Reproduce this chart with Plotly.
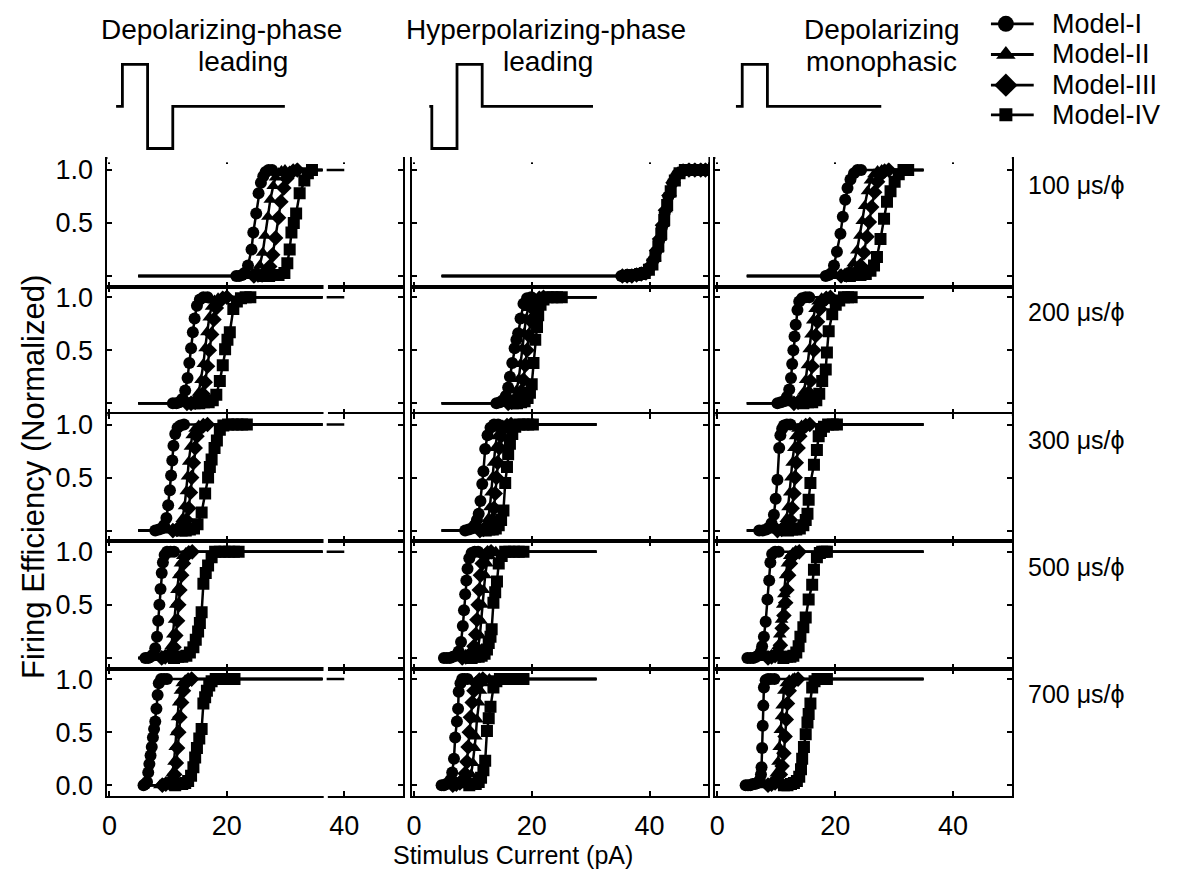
import plotly.graph_objects as go

# ---------------------------------------------------------------------------
# Data: firing efficiency (normalized) vs stimulus current (pA)
# rows: phase durations, columns: stimulus waveform, traces: models
# ---------------------------------------------------------------------------
MODELS = ["Model-I", "Model-II", "Model-III", "Model-IV"]
SYMBOLS = ["circle", "triangle-up", "diamond", "square"]
DURATIONS = ["100 μs/ϕ", "200 μs/ϕ", "300 μs/ϕ", "500 μs/ϕ", "700 μs/ϕ"]
COLUMN_TITLES = [("Depolarizing-phase", "leading"),
                 ("Hyperpolarizing-phase", "leading"),
                 ("Depolarizing", "monophasic")]
X_TICKS = [0, 20, 40]
X_TICK_TEXT = ["0", "20", "40"]
Y_TICKS = [0.0, 0.5, 1.0]

# where the zero baseline starts (pA), per column
FLAT_START = [4.9, 4.7, 5.0]
# where the saturated (1.0) line ends (pA), per column and row
FLAT_END = [[36.3, 36.3, 36.3, 36.3, 36.3],
            [49.8, 31.0, 31.0, 31.0, 31.0],
            [35.0, 35.0, 35.0, 35.0, 35.0]]
# saturated segment continued after the axis break (first column)
BREAK_X = [37.0, 40.0]
BREAK_GAP = [36.5, 37.2]

# ---- Depolarizing-phase leading --------------------------------------------
dpl_I_x = [
    [21.6, 22.1, 22.6, 23.0, 23.6, 24.2, 24.5, 25.0, 25.4, 25.8, 26.2, 26.6, 27.1, 27.7],
    [10.8, 11.4, 11.9, 12.4, 12.9, 13.3, 13.6, 13.9, 14.2, 14.5, 14.9, 15.4, 16.0, 16.7],
    [7.8, 8.4, 8.9, 9.3, 9.7, 10.0, 10.3, 10.5, 10.7, 10.9, 11.2, 11.6, 12.1, 12.7],
    [6.1, 6.6, 7.0, 7.4, 7.8, 8.1, 8.3, 8.5, 8.7, 8.9, 9.1, 9.4, 9.8, 10.4, 11.0],
    [5.8, 6.1, 6.4, 6.6, 6.8, 7.0, 7.2, 7.4, 7.6, 7.8, 8.0, 8.2, 8.4, 8.8, 9.3, 9.8],
]
dpl_I_y = [
    [0, 0, 0.01, 0.03, 0.1, 0.25, 0.41, 0.59, 0.78, 0.88, 0.94, 0.98, 1.0, 1.0],
    [0, 0, 0.01, 0.04, 0.12, 0.24, 0.38, 0.52, 0.67, 0.8, 0.92, 0.98, 1.0, 1.0],
    [0, 0.01, 0.02, 0.05, 0.12, 0.24, 0.38, 0.52, 0.66, 0.8, 0.91, 0.97, 0.99, 1.0],
    [0, 0, 0.01, 0.03, 0.09, 0.2, 0.35, 0.5, 0.65, 0.8, 0.9, 0.97, 1.0, 1.0, 1.0],
    [0, 0.01, 0.03, 0.12, 0.2, 0.28, 0.36, 0.45, 0.53, 0.6, 0.72, 0.85, 0.96, 1.0, 1.0, 1.0],
]
dpl_II_x = [
    [23.2, 23.8, 24.4, 25.0, 25.6, 26.1, 26.5, 27.0, 27.4, 27.9, 28.3, 28.8, 29.3, 29.9],
    [12.6, 13.3, 14.0, 14.6, 15.2, 15.6, 16.0, 16.3, 16.6, 17.0, 17.4, 17.9, 18.5, 19.2],
    [10.2, 10.8, 11.4, 11.9, 12.4, 12.8, 13.1, 13.3, 13.5, 13.8, 14.1, 14.6, 15.2, 15.9],
    [8.4, 9.0, 9.6, 10.1, 10.5, 10.8, 11.1, 11.3, 11.5, 11.8, 12.1, 12.5, 13.0, 13.6],
    [8.6, 9.2, 9.8, 10.3, 10.7, 11.0, 11.2, 11.4, 11.6, 11.8, 12.1, 12.4, 12.9, 13.5],
]
dpl_II_y = [
    [0, 0.01, 0.02, 0.04, 0.1, 0.22, 0.38, 0.56, 0.72, 0.85, 0.93, 0.97, 0.99, 1.0],
    [0, 0, 0.01, 0.04, 0.1, 0.22, 0.37, 0.52, 0.67, 0.81, 0.91, 0.97, 0.99, 1.0],
    [0, 0.01, 0.02, 0.05, 0.11, 0.23, 0.37, 0.51, 0.65, 0.79, 0.9, 0.96, 0.99, 1.0],
    [0, 0.01, 0.02, 0.05, 0.11, 0.22, 0.36, 0.5, 0.64, 0.78, 0.89, 0.96, 0.99, 1.0],
    [0, 0.01, 0.02, 0.05, 0.11, 0.22, 0.36, 0.5, 0.64, 0.78, 0.89, 0.96, 0.99, 1.0],
]
dpl_III_x = [
    [24.6, 25.3, 26.0, 26.7, 27.3, 27.8, 28.3, 28.8, 29.2, 29.7, 30.2, 30.7, 31.3, 32.0],
    [13.2, 13.9, 14.6, 15.3, 15.9, 16.3, 16.7, 17.0, 17.4, 17.8, 18.2, 18.7, 19.3, 20.0],
    [10.8, 11.5, 12.1, 12.7, 13.1, 13.5, 13.8, 14.0, 14.3, 14.6, 14.9, 15.4, 16.0, 16.7],
    [8.9, 9.5, 10.1, 10.6, 11.0, 11.3, 11.6, 11.8, 12.0, 12.3, 12.6, 13.0, 13.5, 14.1],
    [9.0, 9.6, 10.2, 10.7, 11.1, 11.4, 11.6, 11.8, 12.0, 12.3, 12.6, 12.9, 13.4, 14.0],
]
dpl_III_y = [
    [0, 0.01, 0.01, 0.04, 0.09, 0.2, 0.36, 0.55, 0.7, 0.83, 0.92, 0.97, 0.99, 1.0],
    [0, 0, 0.01, 0.03, 0.09, 0.2, 0.35, 0.5, 0.65, 0.79, 0.9, 0.96, 0.99, 1.0],
    [0, 0.01, 0.02, 0.04, 0.1, 0.21, 0.36, 0.5, 0.64, 0.78, 0.89, 0.96, 0.99, 1.0],
    [0, 0.01, 0.02, 0.04, 0.1, 0.21, 0.35, 0.5, 0.64, 0.78, 0.89, 0.96, 0.99, 1.0],
    [0, 0.01, 0.02, 0.04, 0.1, 0.21, 0.35, 0.5, 0.64, 0.78, 0.89, 0.96, 0.99, 1.0],
]
dpl_IV_x = [
    [26.4, 27.2, 28.0, 28.8, 29.8, 30.3, 30.7, 31.0, 31.4, 31.8, 32.4, 33.2, 33.8, 34.5],
    [14.5, 15.3, 16.1, 16.9, 17.6, 18.2, 18.8, 19.3, 19.7, 20.1, 20.5, 21.1, 21.7, 22.4, 23.2, 24.0],
    [12.3, 13.0, 13.7, 14.4, 15.0, 15.7, 16.3, 16.8, 17.1, 17.4, 17.9, 18.3, 18.8, 19.4, 20.2, 21.0, 21.8, 22.6, 23.4],
    [11.0, 11.7, 12.4, 13.1, 13.7, 14.3, 14.7, 15.1, 15.4, 15.7, 16.0, 16.4, 16.8, 17.4, 18.0, 18.8, 19.6, 20.4, 21.2, 22.0],
    [11.2, 11.8, 12.4, 12.9, 13.4, 13.9, 14.3, 14.6, 14.9, 15.3, 15.7, 16.0, 16.3, 16.6, 17.0, 17.4, 18.1, 18.9, 19.7, 20.5, 21.3],
]
dpl_IV_y = [
    [0, 0, 0.01, 0.01, 0.03, 0.12, 0.25, 0.41, 0.5, 0.59, 0.78, 0.9, 0.97, 1.0],
    [0, 0, 0.01, 0.01, 0.03, 0.08, 0.21, 0.36, 0.51, 0.6, 0.67, 0.89, 0.96, 0.99, 1.0, 1.0],
    [0, 0, 0.01, 0.02, 0.06, 0.17, 0.35, 0.5, 0.6, 0.67, 0.78, 0.85, 0.95, 0.99, 1.0, 1.0, 1.0, 1.0, 1.0],
    [0, 0.01, 0.01, 0.02, 0.05, 0.1, 0.17, 0.25, 0.33, 0.43, 0.7, 0.8, 0.87, 0.95, 1.0, 1.0, 1.0, 1.0, 1.0, 1.0],
    [0, 0.01, 0.01, 0.02, 0.04, 0.09, 0.17, 0.26, 0.35, 0.44, 0.53, 0.77, 0.83, 0.89, 0.94, 0.98, 1.0, 1.0, 1.0, 1.0, 1.0],
]

# ---- Hyperpolarizing-phase leading -----------------------------------------
hpl_I_x = [
    [35.2, 36.0, 36.8, 37.6, 38.4, 39.2, 40.0, 40.6, 41.1, 41.6, 42.1, 42.6, 43.2, 43.9, 44.7, 45.6, 46.6, 47.6, 48.6, 49.6],
    [14.0, 14.6, 15.1, 15.6, 16.0, 16.3, 16.7, 17.1, 17.4, 17.7, 18.1, 18.6, 19.2, 19.9],
    [8.7, 9.3, 9.8, 10.3, 10.7, 11.0, 11.3, 11.6, 11.8, 12.1, 12.5, 13.0, 13.6, 14.3],
    [5.1, 5.6, 6.1, 6.6, 7.1, 7.6, 8.0, 8.3, 8.5, 8.7, 8.9, 9.1, 9.4, 9.8, 10.3, 10.9],
    [4.7, 5.1, 5.5, 5.9, 6.2, 6.5, 6.8, 7.0, 7.3, 7.5, 7.6, 7.9, 8.2, 8.6, 9.1],
]
hpl_I_y = [
    [0, 0, 0, 0.01, 0.01, 0.03, 0.08, 0.15, 0.23, 0.33, 0.46, 0.6, 0.75, 0.88, 0.96, 0.99, 1.0, 1.0, 1.0, 1.0],
    [0, 0.01, 0.03, 0.07, 0.15, 0.25, 0.38, 0.52, 0.6, 0.66, 0.8, 0.94, 0.99, 1.0],
    [0, 0.01, 0.02, 0.05, 0.1, 0.16, 0.28, 0.44, 0.56, 0.77, 0.9, 0.97, 1.0, 1.0],
    [0, 0, 0, 0.01, 0.02, 0.06, 0.15, 0.3, 0.45, 0.6, 0.73, 0.84, 0.94, 0.99, 1.0, 1.0],
    [0, 0, 0.01, 0.02, 0.05, 0.12, 0.25, 0.45, 0.6, 0.72, 0.88, 0.96, 1.0, 1.0, 1.0],
]
hpl_II_x = [
    [35.6, 36.4, 37.2, 38.0, 38.8, 39.5, 40.2, 40.8, 41.3, 41.8, 42.3, 42.8, 43.4, 44.1, 44.9, 45.8, 46.8, 47.8, 48.8],
    [15.4, 16.0, 16.5, 17.0, 17.4, 17.8, 18.1, 18.4, 18.7, 19.0, 19.4, 19.9, 20.5, 21.2],
    [10.6, 11.2, 11.7, 12.2, 12.6, 12.9, 13.1, 13.3, 13.5, 13.8, 14.1, 14.5, 15.1, 15.8],
    [8.8, 9.4, 10.0, 10.5, 10.9, 11.2, 11.4, 11.6, 11.8, 12.1, 12.4, 12.8, 13.3, 13.9],
    [7.6, 8.2, 8.8, 9.3, 9.7, 10.0, 10.3, 10.5, 10.7, 11.0, 11.3, 11.7, 12.2, 12.8],
]
hpl_II_y = [
    [0, 0, 0.01, 0.01, 0.02, 0.04, 0.09, 0.16, 0.25, 0.36, 0.49, 0.63, 0.77, 0.89, 0.96, 0.99, 1.0, 1.0, 1.0],
    [0, 0.01, 0.02, 0.05, 0.12, 0.23, 0.37, 0.52, 0.66, 0.79, 0.9, 0.97, 0.99, 1.0],
    [0, 0.01, 0.02, 0.05, 0.11, 0.22, 0.36, 0.5, 0.64, 0.78, 0.89, 0.96, 0.99, 1.0],
    [0, 0.01, 0.02, 0.04, 0.1, 0.21, 0.35, 0.5, 0.64, 0.78, 0.89, 0.96, 0.99, 1.0],
    [0, 0.01, 0.02, 0.04, 0.1, 0.21, 0.35, 0.46, 0.62, 0.78, 0.89, 0.96, 0.99, 1.0],
]
hpl_III_x = [
    [35.4, 36.2, 37.0, 37.8, 38.6, 39.4, 40.1, 40.7, 41.2, 41.7, 42.2, 42.7, 43.3, 44.0, 44.8, 45.7, 46.7, 47.7, 48.7, 49.5],
    [16.0, 16.6, 17.2, 17.8, 18.2, 18.6, 18.9, 19.2, 19.5, 19.8, 20.2, 20.7, 21.3, 22.0],
    [11.2, 11.8, 12.4, 12.9, 13.3, 13.6, 13.8, 14.0, 14.2, 14.5, 14.8, 15.2, 15.8, 16.5],
    [8.2, 8.8, 9.3, 9.8, 10.2, 10.5, 10.7, 10.9, 11.1, 11.3, 11.6, 12.0, 12.5, 13.1],
    [6.6, 7.2, 7.8, 8.3, 8.7, 9.0, 9.2, 9.4, 9.6, 9.9, 10.2, 10.6, 11.1, 11.7],
]
hpl_III_y = [
    [0, 0, 0, 0.01, 0.02, 0.03, 0.08, 0.15, 0.24, 0.35, 0.48, 0.62, 0.76, 0.88, 0.96, 0.99, 1.0, 1.0, 1.0, 1.0],
    [0, 0.01, 0.02, 0.05, 0.11, 0.22, 0.36, 0.5, 0.64, 0.78, 0.89, 0.96, 0.99, 1.0],
    [0, 0.01, 0.02, 0.04, 0.1, 0.21, 0.35, 0.5, 0.64, 0.78, 0.89, 0.96, 0.99, 1.0],
    [0, 0.01, 0.02, 0.05, 0.11, 0.22, 0.36, 0.5, 0.64, 0.78, 0.89, 0.96, 0.99, 1.0],
    [0, 0.01, 0.02, 0.05, 0.11, 0.22, 0.36, 0.5, 0.64, 0.78, 0.89, 0.96, 0.99, 1.0],
]
hpl_IV_x = [
    [36.0, 36.8, 37.6, 38.4, 39.2, 39.9, 40.5, 41.0, 41.5, 42.0, 42.5, 43.0, 43.6, 44.3, 45.1, 46.0, 47.0, 48.0, 49.0, 49.8],
    [16.8, 17.5, 18.2, 18.8, 19.3, 19.7, 20.0, 20.3, 20.6, 20.9, 21.1, 21.5, 22.0, 22.7, 23.5, 24.3, 25.1],
    [12.2, 12.8, 13.4, 13.9, 14.4, 14.8, 15.2, 15.5, 15.8, 16.0, 16.3, 16.7, 17.2, 17.9, 18.6, 19.4, 20.2],
    [9.8, 10.4, 11.0, 11.5, 12.0, 12.4, 12.7, 13.0, 13.2, 13.5, 13.8, 14.1, 14.4, 14.9, 15.5, 16.2, 17.0, 17.8, 18.6],
    [9.4, 10.0, 10.5, 11.0, 11.4, 11.8, 12.1, 12.4, 12.7, 13.0, 13.5, 14.0, 14.6, 15.4, 16.2, 17.0, 17.8, 18.6],
]
hpl_IV_y = [
    [0, 0.01, 0.01, 0.02, 0.03, 0.06, 0.11, 0.19, 0.28, 0.4, 0.53, 0.67, 0.8, 0.9, 0.97, 1.0, 1.0, 1.0, 1.0, 1.0],
    [0, 0, 0.01, 0.02, 0.05, 0.1, 0.18, 0.38, 0.6, 0.72, 0.83, 0.93, 0.98, 1.0, 1.0, 1.0, 1.0],
    [0, 0.01, 0.01, 0.02, 0.05, 0.1, 0.19, 0.45, 0.6, 0.72, 0.82, 0.91, 0.98, 1.0, 1.0, 1.0, 1.0],
    [0, 0.01, 0.01, 0.02, 0.04, 0.08, 0.14, 0.2, 0.27, 0.52, 0.62, 0.72, 0.89, 0.96, 1.0, 1.0, 1.0, 1.0, 1.0],
    [0, 0.01, 0.01, 0.03, 0.07, 0.14, 0.23, 0.51, 0.63, 0.74, 0.92, 0.98, 1.0, 1.0, 1.0, 1.0, 1.0, 1.0],
]

# ---- Depolarizing monophasic -----------------------------------------------
dmp_I_x = [
    [18.4, 18.9, 19.4, 19.8, 20.3, 20.9, 21.3, 21.7, 22.1, 22.6, 23.2, 23.8, 24.4],
    [10.2, 10.8, 11.3, 11.8, 12.2, 12.5, 12.7, 12.9, 13.1, 13.3, 13.6, 13.9, 14.4, 15.0, 15.6],
    [7.1, 7.7, 8.3, 8.8, 9.2, 9.6, 9.9, 10.2, 10.5, 10.7, 11.0, 11.3, 11.8, 12.4],
    [5.1, 5.6, 6.1, 6.6, 7.1, 7.4, 7.6, 7.9, 8.2, 8.5, 8.8, 9.0, 9.3, 9.8, 10.4],
    [4.8, 5.2, 5.6, 6.0, 6.4, 6.8, 7.2, 7.4, 7.5, 7.6, 7.7, 7.8, 7.9, 8.2, 8.6, 9.1, 9.7],
]
dmp_I_y = [
    [0, 0.01, 0.03, 0.1, 0.23, 0.4, 0.56, 0.72, 0.83, 0.91, 0.97, 1.0, 1.0],
    [0, 0.01, 0.02, 0.06, 0.13, 0.24, 0.37, 0.5, 0.63, 0.74, 0.88, 0.96, 0.99, 1.0, 1.0],
    [0, 0, 0.01, 0.03, 0.07, 0.15, 0.3, 0.48, 0.78, 0.9, 0.96, 0.99, 1.0, 1.0],
    [0, 0, 0, 0.01, 0.03, 0.06, 0.11, 0.2, 0.34, 0.55, 0.73, 0.9, 0.98, 1.0, 1.0],
    [0, 0, 0, 0.01, 0.01, 0.02, 0.05, 0.1, 0.17, 0.35, 0.56, 0.75, 0.92, 0.99, 1.0, 1.0, 1.0],
]
dmp_II_x = [
    [20.0, 20.8, 21.6, 22.4, 23.1, 23.7, 24.2, 24.6, 25.0, 25.5, 26.0, 26.6, 27.2, 27.9],
    [12.4, 13.1, 13.7, 14.2, 14.7, 15.0, 15.3, 15.6, 15.9, 16.2, 16.6, 17.1, 17.7, 18.4],
    [9.6, 10.2, 10.8, 11.3, 11.7, 12.0, 12.3, 12.5, 12.7, 13.0, 13.3, 13.7, 14.3, 15.0],
    [8.2, 8.8, 9.4, 9.9, 10.3, 10.6, 10.9, 11.1, 11.3, 11.6, 11.9, 12.3, 12.8, 13.4],
    [8.0, 8.6, 9.1, 9.6, 10.0, 10.3, 10.5, 10.7, 10.9, 11.0, 11.3, 11.7, 12.2, 12.8],
]
dmp_II_y = [
    [0, 0.01, 0.02, 0.05, 0.12, 0.24, 0.38, 0.52, 0.66, 0.8, 0.9, 0.96, 0.99, 1.0],
    [0, 0.01, 0.02, 0.05, 0.11, 0.22, 0.36, 0.51, 0.65, 0.78, 0.89, 0.96, 0.99, 1.0],
    [0, 0.01, 0.02, 0.05, 0.11, 0.22, 0.36, 0.5, 0.64, 0.78, 0.89, 0.96, 0.99, 1.0],
    [0, 0.01, 0.02, 0.05, 0.11, 0.22, 0.36, 0.5, 0.6, 0.78, 0.89, 0.96, 0.99, 1.0],
    [0, 0.01, 0.02, 0.05, 0.11, 0.22, 0.36, 0.52, 0.65, 0.75, 0.89, 0.96, 0.99, 1.0],
]
dmp_III_x = [
    [21.0, 21.9, 22.8, 23.6, 24.3, 24.9, 25.4, 25.8, 26.2, 26.7, 27.2, 27.8, 28.4, 29.1],
    [13.0, 13.7, 14.4, 15.0, 15.5, 15.8, 16.1, 16.4, 16.7, 17.0, 17.4, 17.9, 18.5, 19.2],
    [10.2, 10.9, 11.5, 12.0, 12.4, 12.7, 13.0, 13.2, 13.4, 13.7, 14.0, 14.4, 15.0, 15.7],
    [8.6, 9.2, 9.8, 10.3, 10.7, 11.0, 11.3, 11.6, 11.8, 12.1, 12.4, 12.8, 13.3, 13.9],
    [8.6, 9.2, 9.8, 10.3, 10.7, 11.0, 11.3, 11.5, 11.7, 11.9, 12.2, 12.6, 13.1, 13.7],
]
dmp_III_y = [
    [0, 0.01, 0.02, 0.04, 0.1, 0.22, 0.37, 0.51, 0.65, 0.79, 0.89, 0.96, 0.99, 1.0],
    [0, 0.01, 0.02, 0.04, 0.1, 0.21, 0.35, 0.5, 0.64, 0.77, 0.89, 0.96, 0.99, 1.0],
    [0, 0.01, 0.02, 0.04, 0.1, 0.21, 0.35, 0.5, 0.64, 0.78, 0.89, 0.96, 0.99, 1.0],
    [0, 0.01, 0.02, 0.05, 0.12, 0.28, 0.4, 0.52, 0.64, 0.78, 0.89, 0.96, 0.99, 1.0],
    [0, 0.01, 0.02, 0.04, 0.1, 0.18, 0.3, 0.46, 0.62, 0.77, 0.89, 0.96, 0.99, 1.0],
]
dmp_IV_x = [
    [22.5, 23.4, 24.3, 25.2, 26.0, 26.6, 27.1, 27.7, 28.3, 28.8, 29.4, 30.1, 30.8, 31.6, 32.4],
    [14.6, 15.4, 16.1, 16.8, 17.3, 17.8, 18.4, 18.6, 18.9, 19.5, 20.1, 20.7, 21.5, 22.2, 22.8],
    [12.0, 12.7, 13.4, 14.0, 14.6, 15.0, 15.3, 15.5, 15.8, 16.4, 16.9, 17.2, 17.6, 18.1, 18.8, 19.6, 20.3],
    [11.2, 11.8, 12.4, 12.9, 13.4, 13.8, 14.1, 14.6, 15.0, 15.5, 16.1, 16.4, 16.9, 17.4, 17.8, 18.2, 18.6],
    [11.3, 11.9, 12.5, 13.0, 13.5, 13.9, 14.2, 14.4, 14.7, 15.0, 15.3, 15.5, 15.8, 16.1, 16.5, 17.0, 17.6, 18.2, 18.6],
]
dmp_IV_y = [
    [0, 0.01, 0.01, 0.02, 0.05, 0.1, 0.18, 0.35, 0.54, 0.7, 0.8, 0.89, 0.96, 1.0, 1.0],
    [0, 0.01, 0.01, 0.03, 0.09, 0.21, 0.32, 0.48, 0.68, 0.84, 0.93, 0.97, 1.0, 1.0, 1.0],
    [0, 0.01, 0.01, 0.02, 0.05, 0.1, 0.16, 0.29, 0.45, 0.62, 0.76, 0.89, 0.94, 0.98, 1.0, 1.0, 1.0],
    [0, 0.01, 0.01, 0.02, 0.05, 0.11, 0.2, 0.29, 0.38, 0.55, 0.69, 0.83, 0.95, 0.99, 1.0, 1.0, 1.0],
    [0, 0, 0.01, 0.02, 0.04, 0.08, 0.15, 0.25, 0.36, 0.48, 0.59, 0.67, 0.77, 0.92, 0.98, 1.0, 1.0, 1.0, 1.0],
]

# stimulus waveform sketches (time in arbitrary units, amplitude normalized)
WAVE_T = [[-25, 0, 0, 100, 100, 200, 200, 645],
          [-10, 0, 0, 100, 100, 200, 200, 640],
          [-25, 0, 0, 100, 100, 552]]
WAVE_A = [[0, 0, 1, 1, -1, -1, 0, 0],
          [0, 0, -1, -1, 1, 1, 0, 0],
          [0, 0, 1, 1, 0, 0]]

SERIES = [
    [(dpl_I_x, dpl_I_y), (dpl_II_x, dpl_II_y), (dpl_III_x, dpl_III_y), (dpl_IV_x, dpl_IV_y)],
    [(hpl_I_x, hpl_I_y), (hpl_II_x, hpl_II_y), (hpl_III_x, hpl_III_y), (hpl_IV_x, hpl_IV_y)],
    [(dmp_I_x, dmp_I_y), (dmp_II_x, dmp_II_y), (dmp_III_x, dmp_III_y), (dmp_IV_x, dmp_IV_y)],
]

# ---------------------------------------------------------------------------
# Layout geometry (pixels of the 1177 x 876 canvas)
# ---------------------------------------------------------------------------
W, H = 1177, 876
FONT = "Liberation Sans, Arial, Helvetica, sans-serif"
COL_PX = [(102, 399), (408, 706), (713, 1011)]
ROW_TOP, ROW_H = 157.0, 128.6
X_RANGE = [-0.34, 50.0]
Y_RANGE = [-0.1, 1.1]
WAVE_PX = (50, 160)
WAVE_ONSET_PX = [117, 428, 740]
WAVE_UNITS_PER_PX = 3.95
WAVE_BASE_PX, WAVE_AMP_PX = 103.5, 42.5
MARKER_SIZE = 12
LINE_W = 2.5
TICK_FONT = 27

# legend box geometry (pixels)
LEG_X_PX = (975, 1048)
LEG_Y_PX = (0, 130)
LEG_ROW_PX = [20, 51, 82, 112]
LEG_LINE_PX = (990, 1033)
LEG_MARK_PX = 1005
LEG_TEXT_PX = 1049
LEG_MARK_SIZE = [16, 17, 18, 13]


def fx(px):
    return px / W


def fy(px):
    return 1 - px / H


def ax_names(k):
    s = "" if k == 1 else str(k)
    return "xaxis" + s, "yaxis" + s, "x" + s, "y" + s


fig = go.Figure()
layout = {}
shapes = []

for r in range(5):
    for c in range(3):
        k = r * 3 + c + 1
        xa, ya, xr, yr = ax_names(k)
        top = ROW_TOP + r * ROW_H
        bot = top + ROW_H
        ticktext_y = ["0.0" if r == 4 else "", "0.5", "1.0"]
        layout[xa] = dict(
            domain=[fx(COL_PX[c][0]), fx(COL_PX[c][1])], range=X_RANGE, anchor=yr,
            tickvals=X_TICKS, ticktext=X_TICK_TEXT, ticks="inside", ticklen=5, tickwidth=1.5,
            tickcolor="black", showline=True, linewidth=2, linecolor="black",
            mirror="allticks", showgrid=False, zeroline=False,
            showticklabels=(r == 4), ticklabelstandoff=5,
            tickfont=dict(family=FONT, size=TICK_FONT, color="black"))
        layout[ya] = dict(
            domain=[fy(bot), fy(top)], range=Y_RANGE, anchor=xr,
            tickvals=Y_TICKS, ticktext=ticktext_y, ticks="inside", ticklen=5, tickwidth=1.5,
            tickcolor="black", showline=True, linewidth=2, linecolor="black",
            mirror="allticks", showgrid=False, zeroline=False,
            showticklabels=(c == 0), ticklabelstandoff=7,
            tickfont=dict(family=FONT, size=TICK_FONT, color="black"))

        for m in range(4):
            xs_all, ys_all = SERIES[c][m]
            pts = list(zip(xs_all[r], ys_all[r]))
            x = [FLAT_START[c]] + [p[0] for p in pts] + [FLAT_END[c][r]]
            y = [0] + [p[1] for p in pts] + [1]
            sizes = [0] + [MARKER_SIZE] * len(pts) + [0]
            fig.add_trace(go.Scatter(
                x=x, y=y, xaxis=xr, yaxis=yr, mode="lines+markers", opacity=1,
                line=dict(color="black", width=LINE_W),
                marker=dict(symbol=SYMBOLS[m], size=sizes, color="black", opacity=1,
                            line=dict(width=0, color="black")),
                name=MODELS[m], showlegend=False, hoverinfo="skip"))

        if c == 0:
            # continuation of the saturated line beyond the axis break
            fig.add_trace(go.Scatter(
                x=BREAK_X, y=[1, 1], xaxis=xr, yaxis=yr, mode="lines",
                line=dict(color="black", width=LINE_W), showlegend=False,
                hoverinfo="skip"))
            for edge in (top, bot):
                shapes.append(dict(
                    type="rect", xref=xr, yref="paper",
                    x0=BREAK_GAP[0], x1=BREAK_GAP[1],
                    y0=fy(edge + 2.5), y1=fy(edge - 2.5),
                    fillcolor="white", line=dict(width=0), layer="above"))

# stimulus waveform sketches above each column
for c in range(3):
    k = 16 + c
    xa, ya, xr, yr = ax_names(k)
    left_px, right_px = COL_PX[c]
    x0 = -(WAVE_ONSET_PX[c] - left_px) * WAVE_UNITS_PER_PX
    x1 = x0 + (right_px - left_px) * WAVE_UNITS_PER_PX
    y_top = (WAVE_BASE_PX - WAVE_PX[0]) / WAVE_AMP_PX
    y_bot = (WAVE_BASE_PX - WAVE_PX[1]) / WAVE_AMP_PX
    layout[xa] = dict(domain=[fx(left_px), fx(right_px)], range=[x0, x1], anchor=yr,
                      visible=False, showgrid=False, zeroline=False)
    layout[ya] = dict(domain=[fy(WAVE_PX[1]), fy(WAVE_PX[0])], range=[y_bot, y_top],
                      anchor=xr, visible=False, showgrid=False, zeroline=False)
    fig.add_trace(go.Scatter(
        x=WAVE_T[c], y=WAVE_A[c], xaxis=xr, yaxis=yr, mode="lines",
        line=dict(color="black", width=2.8),
        showlegend=False, hoverinfo="skip"))

# legend key drawn on its own hidden axes (pixel units)
xa, ya, xr, yr = ax_names(19)
layout[xa] = dict(domain=[fx(LEG_X_PX[0]), fx(LEG_X_PX[1])], range=list(LEG_X_PX),
                  anchor=yr, visible=False, showgrid=False, zeroline=False)
layout[ya] = dict(domain=[fy(LEG_Y_PX[1]), fy(LEG_Y_PX[0])],
                  range=[LEG_Y_PX[1], LEG_Y_PX[0]], anchor=xr, visible=False,
                  showgrid=False, zeroline=False)
for m in range(4):
    yc = LEG_ROW_PX[m]
    fig.add_trace(go.Scatter(
        x=list(LEG_LINE_PX), y=[yc, yc], xaxis=xr, yaxis=yr, mode="lines",
        line=dict(color="black", width=2.8), showlegend=False, hoverinfo="skip"))
    fig.add_trace(go.Scatter(
        x=[LEG_MARK_PX], y=[yc], xaxis=xr, yaxis=yr, mode="markers",
        marker=dict(symbol=SYMBOLS[m], size=LEG_MARK_SIZE[m], color="black"),
        showlegend=False, hoverinfo="skip"))

annotations = []
for m in range(4):
    annotations.append(dict(x=fx(LEG_TEXT_PX), y=fy(LEG_ROW_PX[m]), xref="paper",
                            yref="paper", text=MODELS[m], showarrow=False,
                            xanchor="left", yanchor="middle",
                            font=dict(family=FONT, size=27, color="black")))

TITLE_X = [(217, 238), (543, 545), (880, 880)]
for c, (l1, l2) in enumerate(COLUMN_TITLES):
    annotations.append(dict(x=fx(TITLE_X[c][0]), y=fy(26), xref="paper", yref="paper",
                            text=l1, showarrow=False, xanchor="center", yanchor="middle",
                            font=dict(family=FONT, size=28, color="black")))
    annotations.append(dict(x=fx(TITLE_X[c][1]), y=fy(58), xref="paper", yref="paper",
                            text=l2, showarrow=False, xanchor="center", yanchor="middle",
                            font=dict(family=FONT, size=28, color="black")))
for r, lab in enumerate(DURATIONS):
    annotations.append(dict(x=fx(1076), y=fy(ROW_TOP + r * ROW_H + 26), xref="paper",
                            yref="paper", text=lab, showarrow=False, xanchor="center",
                            yanchor="middle", font=dict(family=FONT, size=25, color="black")))
annotations.append(dict(x=fx(27), y=fy(478), xref="paper", yref="paper",
                        text="Firing Efficiency (Normalized)", textangle=-90,
                        showarrow=False, xanchor="center", yanchor="middle",
                        font=dict(family=FONT, size=31, color="black")))
annotations.append(dict(x=fx(510), y=fy(860), xref="paper", yref="paper",
                        text="Stimulus Current (pA)", showarrow=False,
                        xanchor="center", yanchor="middle",
                        font=dict(family=FONT, size=25, color="black")))

fig.update_layout(
    width=W, height=H, margin=dict(l=0, r=0, t=0, b=0),
    paper_bgcolor="white", plot_bgcolor="white",
    showlegend=False,
    annotations=annotations, shapes=shapes,
    **layout)

fig.write_html("out.html")
